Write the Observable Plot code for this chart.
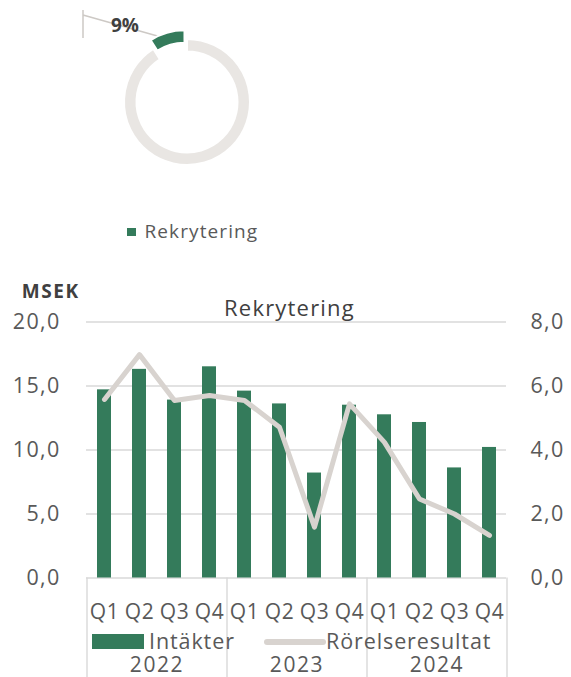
<!DOCTYPE html>
<html><head><meta charset="utf-8">
<script src="https://cdn.jsdelivr.net/npm/d3@7"></script>
<script src="https://cdn.jsdelivr.net/npm/@observablehq/plot@0.6"></script>
<style>
body{margin:0;background:#fff;font-family:"Open Sans",sans-serif;}
#wrap{position:relative;width:571px;height:677px;overflow:hidden;background:#fff;}
#donut,#main{position:absolute;left:0;}
#donut{top:0;}
#main{top:260px;}
.lg{position:absolute;font-family:"Open Sans";color:#595959;white-space:nowrap;line-height:1;}
#main svg text.tk{letter-spacing:1.3px;}
</style></head><body><div id="wrap">
<div id="donut"></div>
<div id="main"></div>
<div class="lg" style="left:127px;top:222px;font-size:19px;letter-spacing:1.1px;"><span style="display:inline-block;width:8.5px;height:8.5px;background:#347b5b;margin-right:9px;vertical-align:2px"></span>Rekrytering</div>
<div class="lg" id="lgBottom" style="left:0;top:630px;font-size:21.5px;letter-spacing:0.9px;"></div>
</div>
<script>
// ---- data ----
const years = ["2022", "2023", "2024"];
const quarters = ["Q1", "Q2", "Q3", "Q4"];
const intakter = [14.7, 16.3, 13.9, 16.5, 14.6, 13.6, 8.2, 13.5, 12.75, 12.15, 8.6, 10.2];
const rorelseresultat = [5.58, 6.98, 5.55, 5.70, 5.55, 4.71, 1.59, 5.44, 4.24, 2.47, 2.0, 1.33];
const leftTicks = [0, 5, 10, 15, 20];
const rightTicks = [0, 2, 4, 6, 8];
const shareNames = ["Övrigt", "Rekrytering"];
const shareValues = [91, 9];
const shareLabel = "9%";
const chartTitle = "Rekrytering";
const unitLabel = "MSEK";
const seriesNames = ["Intäkter", "Rörelseresultat"];

const GREEN = "#347b5b", LINE = "#d8d3cf", RING = "#e9e6e3", GRID = "#d9d9d9";
const fmt = v => v.toFixed(1).replace(".", ",");

// ---- donut ----
const donut = Plot.plot({
  width: 571, height: 250, margin: 0,
  x: {domain: [0, 571], range: [0, 571], axis: null},
  y: {domain: [0, 250], range: [0, 250], axis: null},
  style: {background: "transparent", overflow: "visible"},
  marks: [
    (index, scales) => {
      const cx = scales.x(187), cy = scales.y(102);
      const g = d3.create("svg:g");
      const pie = d3.pie().sort(null)(shareValues);
      const arc = d3.arc().innerRadius(50.5).outerRadius(63);
      const colors = [RING, GREEN];
      g.append("path").attr("d", `M${scales.x(83)},${scales.y(10)}V${scales.y(38)}M${scales.x(83)},${scales.y(15)}L${scales.x(168)},${scales.y(39)}`)
        .attr("stroke", "#cdc9c5").attr("stroke-width", 1.5).attr("fill", "none");
      pie.forEach((p, i) => {
        const mid = (p.startAngle + p.endAngle) / 2;
        const off = i === 1 ? 9 : 0;
        g.append("path").attr("d", arc(p))
          .attr("transform", `translate(${cx + off * Math.sin(mid)},${cy - off * Math.cos(mid)})`)
          .attr("fill", colors[i]).attr("stroke", "#fff").attr("stroke-width", 2);
      });
      g.append("text").attr("x", scales.x(125)).attr("y", scales.y(25)).attr("dy", "0.36em")
        .attr("text-anchor", "middle").attr("font-family", "Open Sans").attr("font-weight", "bold")
        .attr("font-size", 19).attr("fill", "#404040").text(shareLabel);
      return g.node();
    }
  ]
});
document.getElementById("donut").append(donut);

// ---- main chart ----
const rows = intakter.map((v, i) => ({
  key: years[Math.floor(i / 4)] + "-" + quarters[i % 4],
  q: quarters[i % 4],
  year: years[Math.floor(i / 4)],
  intakter: v,
  rr: rorelseresultat[i]
}));
const ratio = 20 / 8;
const main = Plot.plot({
  width: 571, height: 417,
  marginTop: 61.5, marginBottom: 99.5, marginLeft: 86, marginRight: 65,
  style: {fontFamily: "Open Sans", fontSize: "20px", color: "#595959", background: "transparent", overflow: "visible"},
  x: {domain: rows.map(d => d.key), paddingInner: 0.6, paddingOuter: 0.3, axis: null},
  y: {domain: [0, 20], axis: null},
  marks: [
    Plot.ruleY(leftTicks, {stroke: GRID, strokeWidth: 1.4}),
    Plot.ruleX(years.map(y => y + "-Q1"), {x: d => d, dx: -17.5, y1: 0, y2: -7.8, stroke: GRID, strokeWidth: 1.4}),
    Plot.ruleX([years[2] + "-Q4"], {x: d => d, dx: 17.5, y1: 0, y2: -7.8, stroke: GRID, strokeWidth: 1.4}),
    Plot.barY(rows, {x: "key", y: "intakter", fill: GREEN}),
    Plot.line(rows, {x: "key", y: d => d.rr * ratio, stroke: LINE, strokeWidth: 5, strokeLinejoin: "round", strokeLinecap: "round"}),
    Plot.axisY(leftTicks, {anchor: "left", label: null, tickSize: 0, tickPadding: 26, tickFormat: fmt, fontSize: 21.5, fill: "#595959", className: "tk"}),
    Plot.axisY(rightTicks.map(v => v * ratio), {anchor: "right", label: null, tickSize: 0, tickPadding: 24, tickFormat: d => fmt(d / ratio), fontSize: 21.5, fill: "#595959"}),
    Plot.text(rows, {x: "key", text: "q", frameAnchor: "bottom", dy: 34, lineAnchor: "middle", fontSize: 21, fill: "#595959"}),
    Plot.text(years, {x: d => d + "-Q2", text: d => d, dx: 17.5, frameAnchor: "bottom", dy: 87.5, lineAnchor: "middle", fontSize: 21, fill: "#595959"}),
    Plot.text([chartTitle], {frameAnchor: "top", dx: -7, dy: -13.5, lineAnchor: "middle", fontSize: 22, fill: "#404040"}),
    Plot.text([unitLabel], {frameAnchor: "top-left", textAnchor: "end", dx: -7, dy: -30, lineAnchor: "middle", fontSize: 19, fontWeight: "bold", fill: "#404040"})
  ]
});
document.getElementById("main").append(main);
// widen lettering slightly to match the reference typography
main.querySelectorAll("text").forEach(t => {
  const s = t.textContent;
  if (/^\d+,\d$/.test(s)) t.setAttribute("letter-spacing", "1.3");
  else if (/^Q\d$/.test(s)) t.setAttribute("letter-spacing", "0.6");
  else if (/^\d{4}$/.test(s)) t.setAttribute("letter-spacing", "1.6");
  else if (s === chartTitle) t.setAttribute("letter-spacing", "1.2");
  else if (s === unitLabel) t.setAttribute("letter-spacing", "1.5");
});

// ---- bottom legend ----
const lg = document.getElementById("lgBottom");
lg.innerHTML =
  `<span style="position:absolute;left:92px;top:4px;width:52px;height:15px;background:${GREEN}"></span>` +
  `<span style="position:absolute;left:149px;top:0px">${seriesNames[0]}</span>` +
  `<svg style="position:absolute;left:264px;top:7px" width="62" height="10"><line x1="3" y1="5" x2="59" y2="5" stroke="${LINE}" stroke-width="6" stroke-linecap="round"/></svg>` +
  `<span style="position:absolute;left:326px;top:0px">${seriesNames[1]}</span>`;
</script>
</body></html>
